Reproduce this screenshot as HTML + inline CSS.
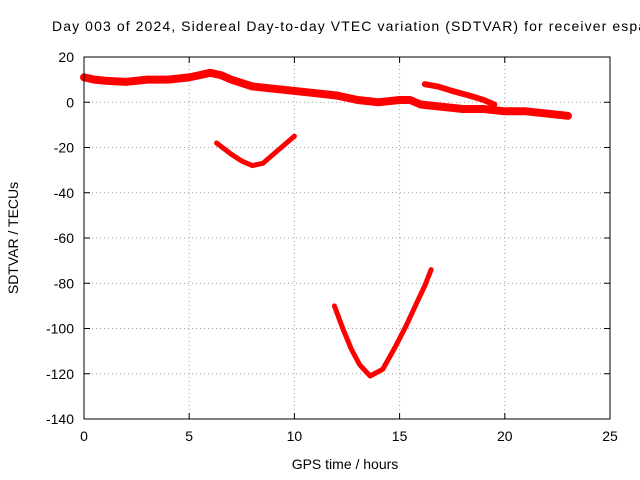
<!DOCTYPE html>
<html><head><meta charset="utf-8"><style>
body{margin:0;background:#fff;overflow:hidden;}
svg{display:block;font-family:"Liberation Sans",sans-serif;}
</style></head><body>
<svg id="chart" width="640" height="480">
<text x="52" y="31" font-size="14" textLength="594" lengthAdjust="spacing">Day 003 of 2024, Sidereal Day-to-day VTEC variation (SDTVAR) for receiver espa</text>
<text x="345" y="469" font-size="14" text-anchor="middle">GPS time / hours</text>
<text transform="translate(18,238) rotate(-90)" font-size="14" text-anchor="middle">SDTVAR / TECUs</text>
<g id="grid"></g><g id="series"></g>
<rect x="84" y="57" width="526" height="362" fill="none" stroke="#000"/>
</svg>
<script>
const xTicks=[0,5,10,15,20,25];
const yTicks=[20,0,-20,-40,-60,-80,-100,-120,-140];
const s1x=[0,0.5,1,2,3,4,5,5.5,6,6.5,7,8,9,10,11,12,13,14,15,15.5,16,17,18,19,20,21,22,23];
const s1y=[11,10,9.5,9,10,10,11,12,13,12,10,7,6,5,4,3,1,0,1,1,-1,-2,-3,-3,-4,-4,-5,-6];
const s2x=[16.2,16.8,17.5,18.3,19,19.5];
const s2y=[8,7,5,3,1,-1];
const s3x=[6.3,7,7.5,8,8.5,9,9.5,10];
const s3y=[-18,-23,-26,-28,-27,-23,-19,-15];
const s4x=[11.9,12.3,12.7,13.1,13.6,14.2,14.8,15.3,15.8,16.2,16.5];
const s4y=[-90,-100,-109,-116,-121,-118,-108,-99,-89,-81,-74];
const X=v=>84+v*526/25, Y=v=>57+(20-v)*362/160;
const NS="http://www.w3.org/2000/svg";
const g=document.getElementById('grid'), sg=document.getElementById('series');
function el(t,a,p){const e=document.createElementNS(NS,t);for(const k in a)e.setAttribute(k,a[k]);p.appendChild(e);return e;}
xTicks.forEach(v=>{
 if(v>0&&v<25){const l=el('line',{x1:X(v),x2:X(v),y1:57,y2:419,stroke:'#a0a0a0','stroke-dasharray':'1,3'},g);
 
 }
 el('line',{x1:X(v),x2:X(v),y1:419,y2:413,stroke:'#000'},g);
 el('line',{x1:X(v),x2:X(v),y1:57,y2:63,stroke:'#000'},g);
 const t=el('text',{x:X(v),y:441,'font-size':14,'text-anchor':'middle'},g);t.textContent=v;
 
 
});
yTicks.forEach(v=>{
 if(v<20&&v>-140){const l=el('line',{x1:84,x2:610,y1:Y(v),y2:Y(v),stroke:'#a0a0a0','stroke-dasharray':'1,3'},g);
 
 }
 el('line',{x1:84,x2:90,y1:Y(v),y2:Y(v),stroke:'#000'},g);
 el('line',{x1:610,x2:604,y1:Y(v),y2:Y(v),stroke:'#000'},g);
 const t=el('text',{x:74,y:Y(v)+5,'font-size':14,'text-anchor':'end'},g);t.textContent=v;
 
 
});
[[s1x,s1y,8],[s2x,s2y,6],[s3x,s3y,5],[s4x,s4y,5]].forEach(([xs,ys,w])=>{
 const p=el('polyline',{points:xs.map((x,i)=>X(x)+','+Y(ys[i])).join(' '),fill:'none',stroke:'#ff0000','stroke-width':w,'stroke-linejoin':'round','stroke-linecap':'round'},sg);
 
 
});
</script>
</body></html>
